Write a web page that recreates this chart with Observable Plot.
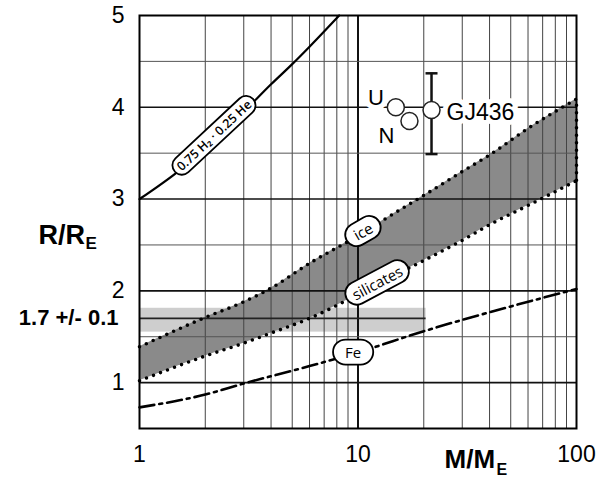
<!DOCTYPE html>
<html><head><meta charset="utf-8">
<script src="https://cdn.jsdelivr.net/npm/d3@7"></script>
<script src="https://cdn.jsdelivr.net/npm/@observablehq/plot@0.6"></script>
<style>body{margin:0;background:#fff;}</style>
</head><body><div id="chart"></div>
<script>
// ---- data ----
const massGrid       = [1, 2, 3, 4, 6, 10, 15, 20, 30, 40, 60, 100];
const iceRadius      = [1.39, 1.71, 1.88, 2.03, 2.30, 2.60, 2.86, 3.04, 3.30, 3.48, 3.77, 4.09];
const silicateRadius = [1.02, 1.29, 1.43, 1.54, 1.70, 1.96, 2.18, 2.33, 2.55, 2.72, 2.93, 3.20];
const hheMass   = [1, 1.5, 2, 3, 4, 5, 6, 8.2];
const hheRadius = [3.00, 3.30, 3.55, 3.95, 4.25, 4.47, 4.66, 5.00];
const feMass    = [1, 2, 3, 6, 10, 20, 50, 100];
const feRadius  = [0.73, 0.87, 0.99, 1.18, 1.33, 1.56, 1.83, 2.02];
const planetNames  = ["U", "N", "GJ436"];
const planetMass   = [14.9, 17.2, 21.7];
const planetRadius = [4.00, 3.85, 3.97];
const gjErrLow = 3.49, gjErrHigh = 4.37;
const bandCenter = 1.7, bandLow = 1.55, bandHigh = 1.81, bandMassMax = 20.5;
const bandLabel = "1.7 +/- 0.1";
const curveLabelTexts  = ["ice", "silicates", "Fe"];
const curveLabelMass   = [10.6, 12.3, 9.5];
const curveLabelRadius = [2.64, 2.08, 1.32];
const hheLabelText = "0.75 H\u2082 \u00b7 0.25 He";
const hheLabelMass = 2.2, hheLabelRadius = 3.69;
const xTicks = [1, 10, 100];
const yTicks = [1, 2, 3, 4, 5];
const xGridMinor = [2, 3, 4, 5, 6, 7, 8, 9, 20, 30, 40, 50, 60, 70, 80, 90];
const yGridHalf = [1.5, 2.5, 3.5, 4.5];
const yGridInt = [1, 2, 3, 4];

// ---- tables ----
const band = massGrid.map((m, i) => ({m, ice: iceRadius[i], sil: silicateRadius[i]}));
const hhe = hheMass.map((m, i) => ({m, r: hheRadius[i]}));
const fe = feMass.map((m, i) => ({m, r: feRadius[i]}));
const planets = planetNames.map((name, i) => ({name, m: planetMass[i], r: planetRadius[i]}));
const gj = planets[2];
const curveLabels = curveLabelTexts.map((t, i) => ({t, m: curveLabelMass[i], r: curveLabelRadius[i]}));
const labelAngles = [-30, -28, 0];
curveLabels.forEach((d, i) => d.a = labelAngles[i]);

const capSymbol = {draw(ctx, size) { const w = Math.sqrt(size / Math.PI); ctx.moveTo(-w, 0); ctx.lineTo(w, 0); }};
const last = band[band.length - 1];
const dotted = {stroke: "black", strokeWidth: 3.6, strokeDasharray: "0,7.5", strokeLinecap: "round"};

const chart = Plot.plot({
  width: 612, height: 480,
  marginLeft: 139, marginRight: 36, marginTop: 15, marginBottom: 52,
  style: {fontFamily: "'Liberation Sans', Arial, sans-serif", fontSize: "23px", background: "white", color: "black"},
  x: {type: "log", domain: [1, 100], ticks: xTicks, tickFormat: d => String(d), tickSize: 0, tickPadding: 17, label: null},
  y: {domain: [0.5, 5], ticks: yTicks, tickFormat: d => String(d), tickSize: 0, tickPadding: 15, label: null},
  marks: [
    Plot.rect([{x1: 1, x2: bandMassMax, y1: bandLow, y2: bandHigh}], {x1: "x1", x2: "x2", y1: "y1", y2: "y2", fill: "#cecece"}),
    Plot.areaY(band, {x: "m", y1: "sil", y2: "ice", fill: "#8a8a8a", curve: "monotone-x"}),
    Plot.ruleX(xGridMinor, {stroke: "#444", strokeWidth: 1}),
    Plot.ruleX([10], {stroke: "#111", strokeWidth: 2}),
    Plot.ruleY(yGridHalf, {stroke: "#555", strokeWidth: 1}),
    Plot.ruleY(yGridInt, {stroke: "#111", strokeWidth: 1.6}),
    Plot.ruleY([{y: bandCenter, x1: 1, x2: bandMassMax}], {y: "y", x1: "x1", x2: "x2", stroke: "#222", strokeWidth: 1.6}),
    Plot.line(band, {x: "m", y: "ice", ...dotted, curve: "monotone-x"}),
    Plot.line(band, {x: "m", y: "sil", ...dotted, curve: "monotone-x"}),
    Plot.ruleX([{x: last.m, y1: last.sil, y2: last.ice}], {x: "x", y1: "y1", y2: "y2", ...dotted}),
    Plot.line(hhe, {x: "m", y: "r", stroke: "black", strokeWidth: 2.2, curve: "monotone-x"}),
    Plot.line(fe, {x: "m", y: "r", stroke: "black", strokeWidth: 2.6, strokeDasharray: "15,5,3,5", curve: "monotone-x"}),
    Plot.frame({stroke: "black", strokeWidth: 2}),
    // curve labels (pills added after render)
    Plot.text(curveLabels, {x: "m", y: "r", text: "t", rotate: "a", fontSize: 15, fontFamily: "'Open Sans', sans-serif", fill: "black"}),
    Plot.text([{m: hheLabelMass, r: hheLabelRadius}], {x: "m", y: "r", text: () => hheLabelText, rotate: -43, fontSize: 12.5, fontWeight: 600, fontFamily: "'Open Sans', sans-serif", fill: "black"}),
    // planet labels
    Plot.text([planets[0]], {x: "m", y: "r", text: "name", dx: -20, dy: -9, fontSize: 22, fill: "black", stroke: "white", strokeWidth: 10}),
    Plot.text([planets[1]], {x: "m", y: "r", text: "name", dx: -23, dy: 15, fontSize: 22, fill: "black", stroke: "white", strokeWidth: 10}),
    Plot.text([planets[2]], {x: "m", y: "r", text: "name", dx: 15, dy: 3, textAnchor: "start", fontSize: 23, fill: "black", stroke: "white", strokeWidth: 10}),
    Plot.ruleX([{x: gj.m, y1: gjErrLow, y2: gjErrHigh}], {x: "x", y1: "y1", y2: "y2", stroke: "#111", strokeWidth: 2.5}),
    Plot.dot([{x: gj.m, y: gjErrLow}, {x: gj.m, y: gjErrHigh}], {x: "x", y: "y", symbol: capSymbol, r: 6, stroke: "#111", strokeWidth: 2.5, fill: "none"}),
    Plot.dot(planets, {x: "m", y: "r", r: 8.5, fill: "white", stroke: "#222", strokeWidth: 1.5}),
    // axis titles and band label
    Plot.text(["R/R"], {frameAnchor: "left", dx: -101, dy: 13, textAnchor: "start", fontWeight: "bold", fontSize: 27, fill: "black"}),
    Plot.text(["E"], {frameAnchor: "left", dx: -54, dy: 22, textAnchor: "start", fontWeight: "bold", fontSize: 17, fill: "black"}),
    Plot.text([{y: bandCenter}], {y: "y", frameAnchor: "left", dx: -21, textAnchor: "end", text: () => bandLabel, fontWeight: "bold", fontSize: 22, fill: "black"}),
    Plot.text(["M/M"], {frameAnchor: "bottom-right", dx: -132, dy: 39, textAnchor: "start", fontWeight: "bold", fontSize: 26, fill: "black"}),
    Plot.text(["E"], {frameAnchor: "bottom-right", dx: -80, dy: 46, textAnchor: "start", fontWeight: "bold", fontSize: 16, fill: "black"})
  ]
});
document.getElementById("chart").append(chart);

// rounded pill boxes behind curve labels
const pads = {"ice": [9, 1.5], "silicates": [7, 1.5], "Fe": [12, 2.5]};
pads[hheLabelText] = [5, 1];
d3.select(chart).selectAll("text").each(function () {
  const t = this.textContent;
  if (!pads[t]) return;
  const bb = this.getBBox();
  const [px, py] = pads[t];
  const h = bb.height + 2 * py;
  const rect = document.createElementNS("http://www.w3.org/2000/svg", "rect");
  rect.setAttribute("x", bb.x - px);
  rect.setAttribute("y", bb.y - py);
  rect.setAttribute("width", bb.width + 2 * px);
  rect.setAttribute("height", h);
  rect.setAttribute("rx", h / 2);
  rect.setAttribute("fill", "white");
  rect.setAttribute("stroke", "black");
  rect.setAttribute("stroke-width", 1.8);
  const tr = this.getAttribute("transform");
  if (tr) rect.setAttribute("transform", tr);
  this.parentNode.insertBefore(rect, this);
});
</script>
</body></html>
